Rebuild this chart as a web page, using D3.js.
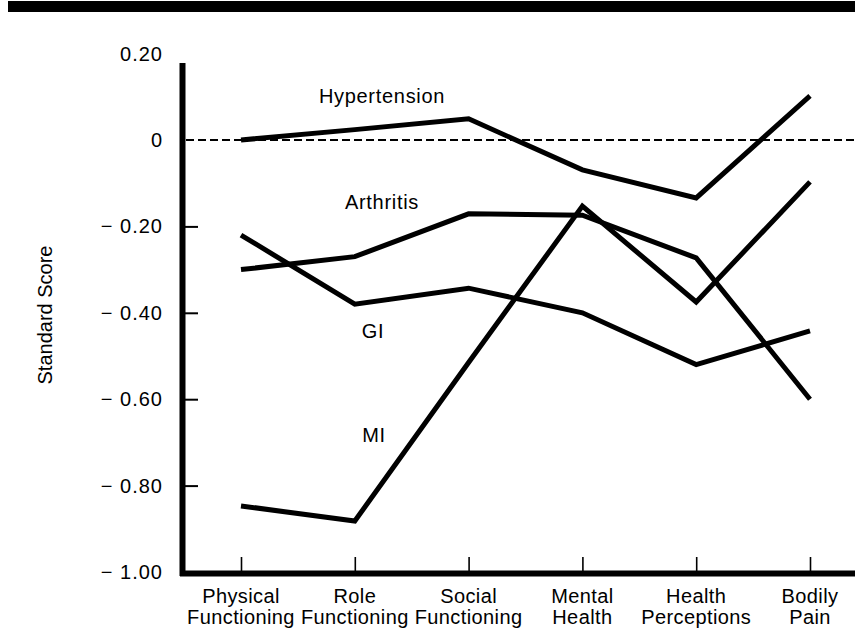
<!DOCTYPE html>
<html>
<head>
<meta charset="utf-8">
<script src="https://cdn.jsdelivr.net/npm/d3@7"></script>
<style>
  body { margin: 0; background: #fff; }
  svg { display: block; font-family: "Liberation Sans", Arial, Helvetica, sans-serif; }
</style>
</head>
<body>
<div id="chart"></div>
<script>
// scale categories, two lines each
const categories = ["Physical Functioning", "Role Functioning", "Social Functioning",
  "Mental Health", "Health Perceptions", "Bodily Pain"];
const categoryLines = [["Physical", "Functioning"], ["Role", "Functioning"], ["Social", "Functioning"],
  ["Mental", "Health"], ["Health", "Perceptions"], ["Bodily", "Pain"]];

// standard scores
const hypertension = [0.00, 0.024, 0.049, -0.069, -0.134, 0.102];
const arthritis = [-0.30, -0.27, -0.171, -0.174, -0.273, -0.60];
const gi = [-0.22, -0.38, -0.343, -0.40, -0.52, -0.442];
const mi = [-0.847, -0.882, -0.515, -0.153, -0.375, -0.097];

const yTicks = [0.2, 0, -0.2, -0.4, -0.6, -0.8, -1.0];
const yTickLabels = ["0.20", "0", "\u2212 0.20", "\u2212 0.40", "\u2212 0.60", "\u2212 0.80", "\u2212 1.00"];

const width = 855, height = 634;

const svg = d3.select("#chart").append("svg")
  .attr("width", width)
  .attr("height", height);

const x = d3.scalePoint().domain(categories).range([241, 810]);
const y = d3.scaleLinear().domain([-1, 0.2]).range([572, 53.6]);

// heavy rule across the top
svg.append("rect")
  .attr("x", 8).attr("y", 1)
  .attr("width", width - 8).attr("height", 11)
  .attr("fill", "#000");

// dashed zero reference
svg.append("line")
  .attr("x1", 186).attr("x2", width)
  .attr("y1", y(0)).attr("y2", y(0))
  .attr("stroke", "#000")
  .attr("stroke-width", 2)
  .attr("stroke-dasharray", "8,4");

// y tick labels
const yLabels = svg.append("g")
  .attr("transform", "translate(163,0)")
  .call(d3.axisLeft(y).tickValues(yTicks).tickSize(0)
    .tickFormat((d, i) => yTickLabels[i]));
yLabels.select(".domain").remove();
yLabels.selectAll("text")
  .attr("x", 0)
  .attr("fill", "#000")
  .style("font-size", "20px")
  .style("letter-spacing", "1px")
  .style("font-family", "inherit");

// inner y tick marks
const yMarks = svg.append("g")
  .attr("transform", "translate(185,0)")
  .call(d3.axisRight(y).tickValues([-0.2, -0.4, -0.6, -0.8]).tickSize(13).tickFormat(""));
yMarks.select(".domain").remove();
yMarks.selectAll("line").attr("stroke", "#000").attr("stroke-width", 2);

// x tick marks (pointing up)
const xMarks = svg.append("g")
  .attr("transform", "translate(0,572)")
  .call(d3.axisTop(x).tickSize(15).tickFormat(""));
xMarks.select(".domain").remove();
xMarks.selectAll("line").attr("stroke", "#000").attr("stroke-width", 1.6);

// axis frame
svg.append("line")
  .attr("x1", 182.5).attr("x2", 182.5)
  .attr("y1", 63).attr("y2", 576)
  .attr("stroke", "#000").attr("stroke-width", 6);
svg.append("line")
  .attr("x1", 180).attr("x2", width)
  .attr("y1", 573.5).attr("y2", 573.5)
  .attr("stroke", "#000").attr("stroke-width", 6);

// x category labels
const xl = svg.append("g")
  .selectAll("text")
  .data(categories)
  .enter().append("text")
  .attr("text-anchor", "middle")
  .attr("font-size", "20px")
  .attr("letter-spacing", "0.4px")
  .attr("fill", "#000");
xl.append("tspan")
  .attr("x", d => x(d)).attr("y", 603)
  .text((d, i) => categoryLines[i][0]);
xl.append("tspan")
  .attr("x", d => x(d)).attr("y", 624)
  .text((d, i) => categoryLines[i][1]);

// y title
svg.append("text")
  .attr("transform", "translate(52,315) rotate(-90)")
  .attr("text-anchor", "middle")
  .attr("font-size", "20px")
  .attr("fill", "#000")
  .text("Standard Score");

// series
const series = [
  { name: "Hypertension", values: hypertension },
  { name: "Arthritis", values: arthritis },
  { name: "GI", values: gi },
  { name: "MI", values: mi }
];

const line = d3.line()
  .x((d, i) => x(categories[i]))
  .y(d => y(d));

svg.append("g")
  .selectAll("path")
  .data(series)
  .enter().append("path")
  .attr("d", d => line(d.values))
  .attr("fill", "none")
  .attr("stroke", "#000")
  .attr("stroke-width", 5)
  .attr("stroke-linejoin", "miter");

// series labels
const seriesLabels = [
  { text: "Hypertension", x: 382, y: 103 },
  { text: "Arthritis", x: 382, y: 209 },
  { text: "GI", x: 373, y: 338 },
  { text: "MI", x: 374, y: 442 }
];
svg.append("g")
  .selectAll("text")
  .data(seriesLabels)
  .enter().append("text")
  .attr("x", d => d.x).attr("y", d => d.y)
  .attr("text-anchor", "middle")
  .attr("font-size", "20px")
  .attr("letter-spacing", "0.7px")
  .attr("fill", "#000")
  .text(d => d.text);
</script>
</body>
</html>
